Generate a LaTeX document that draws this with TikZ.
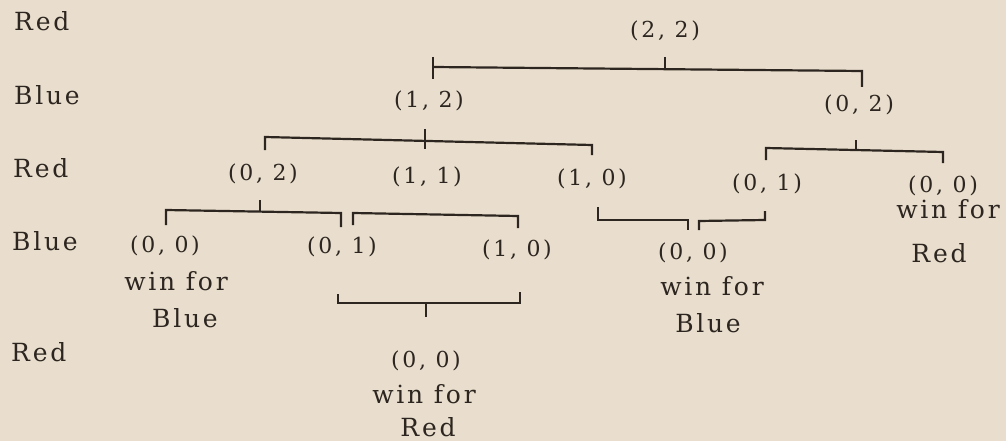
\documentclass[tikz,border=0pt]{standalone}
\usepackage{fontspec}
\newfontfamily\numf[LetterSpace=12]{DejaVu Serif}
\newfontfamily\labf[LetterSpace=11]{DejaVu Serif}
\definecolor{bg}{RGB}{233,222,205}
\definecolor{ink}{RGB}{45,38,32}
\begin{document}
\begin{tikzpicture}[x=1pt,y=-1pt,
  num/.style={anchor=base,inner sep=0pt,text=ink,font=\numf\fontsize{22}{26}\selectfont},
  lab/.style={anchor=base,inner sep=0pt,text=ink,font=\labf\fontsize{25}{30}\selectfont},
  rowlab/.style={lab,anchor=base west},
  brk/.style={draw=ink,line width=2.2pt,line join=miter}]
\useasboundingbox (0,0) rectangle (1006,441);
\fill[bg] (0,0) rectangle (1006,441);
% row labels
\node[rowlab] (r1) at (14,31) {Red};
\node[rowlab] (b1) at (14,105) {Blue};
\node[rowlab] (r2) at (13,177) {Red};
\node[rowlab] (b2) at (12,250) {Blue};
\node[rowlab] (r3) at (11,361) {Red};
% positions
\node[num] (n22) at (665,38) {(2, 2)};
\node[num] (n12) at (429,108) {(1, 2)};
\node[num] (n02r) at (859,112) {(0, 2)};
\node[num] (n02m) at (263,180) {(0, 2)};
\node[num] (n11) at (427,183) {(1, 1)};
\node[num] (n10r) at (592,185) {(1, 0)};
\node[num] (n01r) at (767,190) {(0, 1)};
\node[num] (n00r) at (943,192) {(0, 0)};
\node[lab] (w00r) at (948,218) {win for};
\node[lab] (c00r) at (939,262) {Red};
\node[num] (n00l) at (165,252) {(0, 0)};
\node[lab] (w00l) at (176,290) {win for};
\node[lab] (c00l) at (185,327) {Blue};
\node[num] (n01b) at (342,253) {(0, 1)};
\node[num] (n10b) at (517,256) {(1, 0)};
\node[num] (n00m) at (693,259) {(0, 0)};
\node[lab] (w00m) at (712,295) {win for};
\node[lab] (c00m) at (708,332) {Blue};
\node[num] (n00b) at (426,367) {(0, 0)};
\node[lab] (w00b) at (424,403) {win for};
\node[lab] (c00b) at (428,436) {Red};
% brackets
% (2,2) -> (1,2), (0,2)
\draw[brk] (433,57) -- (433,79);
\draw[brk] (433,67) -- (862,71) -- (862,87);
\draw[brk] (665,57) -- (665,69);
% (1,2) -> (0,2), (1,1), (1,0)
\draw[brk] (265,150) -- (265,137) -- (592,145) -- (592,155);
\draw[brk] (425,129) -- (425,149);
% (0,2) right -> (0,1), (0,0)
\draw[brk] (766,160) -- (766,148) -- (943,152) -- (943,163);
\draw[brk] (856,140) -- (856,150);
% (0,2) mid -> (0,0), (0,1)
\draw[brk] (166,225) -- (166,210) -- (341,213) -- (341,227);
\draw[brk] (260,200) -- (260,212);
% (1,1) -> (0,1), (1,0)
\draw[brk] (353,225) -- (353,213) -- (518,216) -- (518,228);
% (1,0), (0,1) -> (0,0) win for Blue
\draw[brk] (598,207) -- (598,220) -- (688,220) -- (688,230);
\draw[brk] (699,230) -- (699,221) -- (765,220) -- (765,211);
% (0,1), (1,0) -> (0,0) win for Red
\draw[brk] (338,294) -- (338,303) -- (520,303) -- (520,292);
\draw[brk] (426,303) -- (426,317);
\end{tikzpicture}
\end{document}
